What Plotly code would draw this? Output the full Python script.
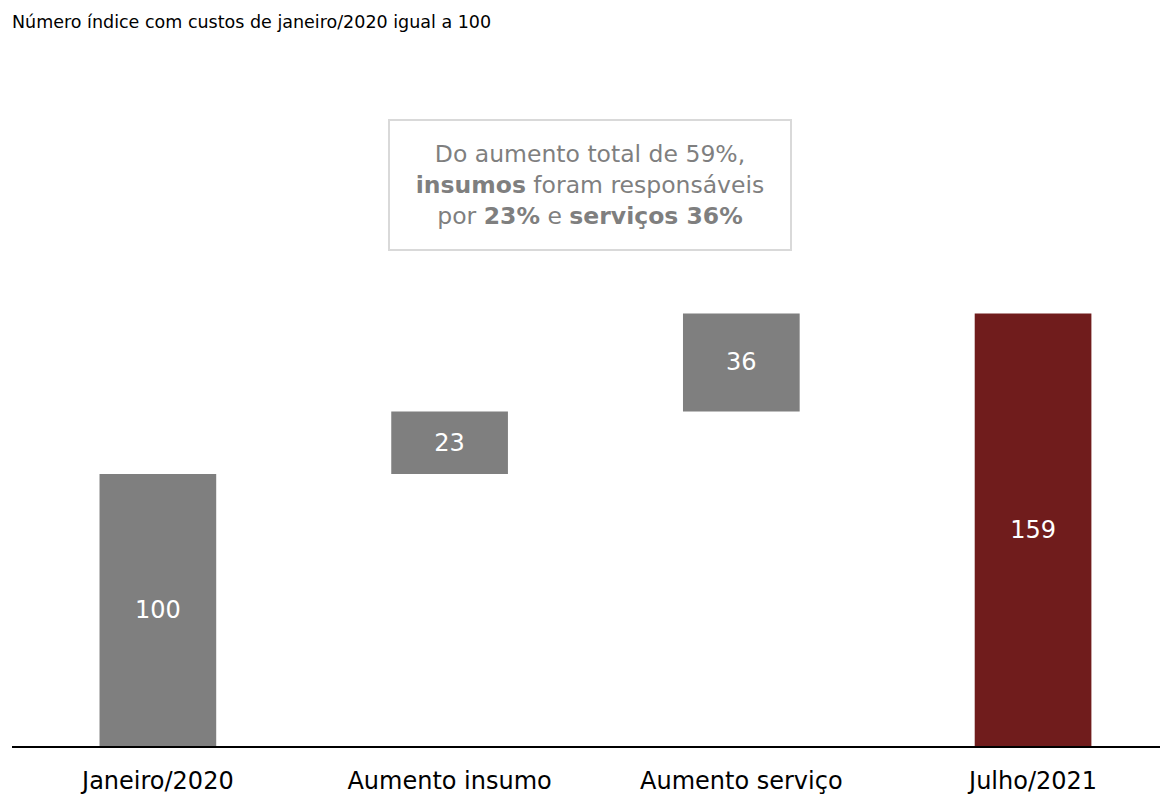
import plotly.graph_objects as go

categories = ["Janeiro/2020", "Aumento insumo", "Aumento serviço", "Julho/2021"]
values = [100, 23, 36, 159]
measures = ["absolute", "relative", "relative", "total"]
bar_colors = ["#7f7f7f", "#7f7f7f", "#7f7f7f", "#701c1c"]

# floating bases from the running total
bases = []
running = 0
for v, m in zip(values, measures):
    if m == "absolute":
        bases.append(0); running = v
    elif m == "relative":
        bases.append(running); running += v
    else:
        bases.append(0)

FONT = "DejaVu Sans"

fig = go.Figure()
fig.add_trace(go.Bar(
    x=categories, y=values, base=bases,
    marker=dict(color=bar_colors, line=dict(width=0)),
    width=0.4,
    text=[str(v) for v in values], textposition="inside", insidetextanchor="middle",
    textfont=dict(color="white", size=24, family=FONT),
    hoverinfo="skip",
))

fig.update_layout(
    width=1168, height=794,
    margin=dict(l=4, r=0, t=0, b=56),
    paper_bgcolor="white", plot_bgcolor="white",
    showlegend=False,
    xaxis=dict(range=[-0.5, 3.49], showline=True, linecolor="black", linewidth=2,
               ticks="", tickfont=dict(size=24, color="black", family=FONT),
               ticklabelstandoff=12,
               showgrid=False, zeroline=False, fixedrange=True),
    yaxis=dict(range=[0, 271.3], visible=False, showgrid=False, zeroline=False),
    annotations=[
        dict(text="Número índice com custos de janeiro/2020 igual a 100",
             xref="paper", yref="paper", x=0, y=1.0, xanchor="left", yanchor="top",
             xshift=-2, yshift=-2, showarrow=False,
             font=dict(size=17.5, color="black", family=FONT)),
        dict(text="Do aumento total de 59%,<br><b>insumos</b> foram responsáveis<br>por <b>23%</b> e <b>serviços 36%</b>",
             xref="x", yref="paper", x=1.481, y=1 - 177 / 738, xanchor="center", yanchor="middle",
             showarrow=False, align="center", width=368, height=96,
             font=dict(size=23.5, color="#7f7f7f", family=FONT),
             bordercolor="#d9d9d9", borderwidth=2, borderpad=16, bgcolor="white"),
    ],
)

fig.write_html("out.html")
